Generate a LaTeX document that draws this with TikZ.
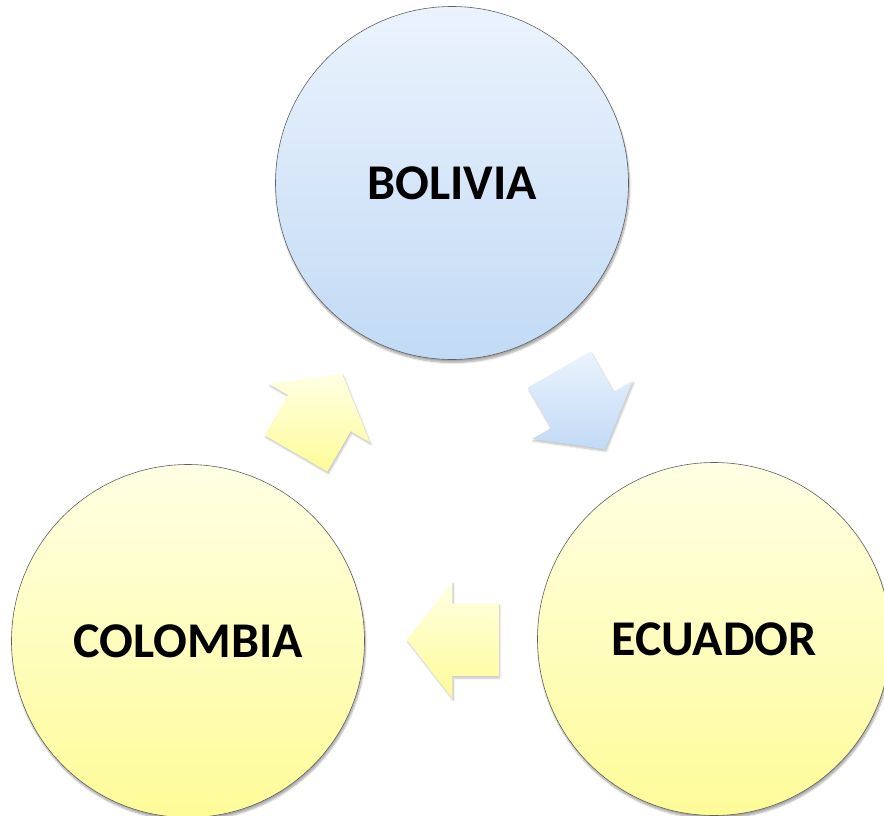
\documentclass[tikz,border=0pt]{standalone}
\usepackage{fontspec}
\setmainfont{Carlito}
\usetikzlibrary{positioning, calc, shapes.arrows, shadows.blur}

\definecolor{skytop}{HTML}{EBF3FD}
\definecolor{skybot}{HTML}{C2DAF5}
\definecolor{lemontop}{HTML}{FFFFE4}
\definecolor{lemonbot}{HTML}{FEFC98}

\begin{document}
\begin{tikzpicture}[x=1pt, y=1pt,
  country/.style={circle, minimum size=353pt, inner sep=0pt, draw=gray!75!black, line width=0.6pt,
    font=\fontsize{50}{54}\selectfont\bfseries,
    blur shadow={shadow xshift=1pt, shadow yshift=-3pt, shadow blur steps=6, shadow opacity=35}},
  bluecountry/.style={country, top color=skytop, bottom color=skybot},
  yellowcountry/.style={country, top color=lemontop, bottom color=lemonbot},
  cyclearrow/.style={single arrow, draw=none, inner xsep=0pt, inner ysep=36pt, minimum height=92pt,
    single arrow head extend=22pt, single arrow tip angle=104, anchor=tail,
    blur shadow={shadow xshift=1pt, shadow yshift=-2pt, shadow blur steps=5, shadow opacity=25}},
  bluearrow/.style={cyclearrow, top color=skytop, bottom color=skybot},
  yellowarrow/.style={cyclearrow, top color=lemontop, bottom color=lemonbot}]

  \useasboundingbox (0,0) rectangle (884,-816);

  \node[bluecountry]   (bolivia)  at (452,-183) {BOLIVIA};
  \node[yellowcountry] (colombia) at (188,-641) {COLOMBIA};
  \node[yellowcountry] (ecuador)  at (714,-639) {ECUADOR};

  % arrows half way between the circles, tail 48pt back from the middle
  \node[bluearrow, rotate=-60]   (toecuador)  at ($(bolivia)!0.5!(ecuador)!48pt!(bolivia)$) {};
  \node[yellowarrow, rotate=180] (tocolombia) at ($(ecuador)!0.5!(colombia)!48pt!(ecuador)$) {};
  \node[yellowarrow, rotate=60]  (tobolivia)  at ($(colombia)!0.5!(bolivia)!48pt!(colombia)$) {};

\end{tikzpicture}
\end{document}
